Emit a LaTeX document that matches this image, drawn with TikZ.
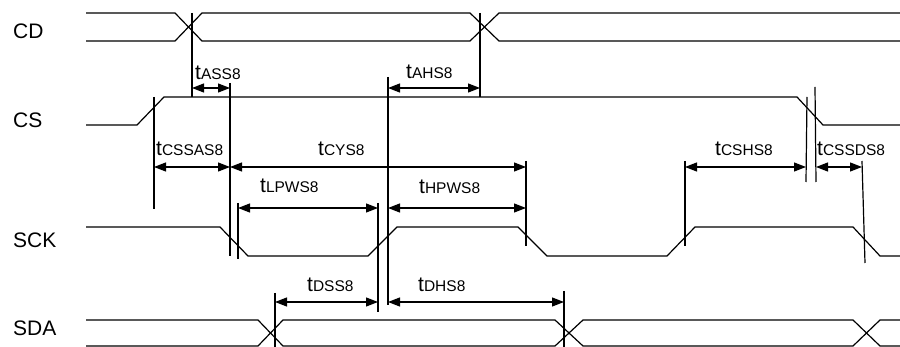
\documentclass[tikz,border=0pt]{standalone}
\usepackage{fontspec}
\setmainfont{Liberation Sans}
\usetikzlibrary{arrows.meta}
\newcommand\tlab[1]{{\fontsize{21}{21}\selectfont t}{\fontsize{15.5}{15.5}\selectfont #1}}
\tikzset{
  sig/.style={line width=1.2pt, line join=miter},
  vline/.style={line width=1.2pt},
  dimarr/.style={line width=1.2pt, {Triangle[length=12pt,width=9pt]}-{Triangle[length=12pt,width=9pt]}},
  siglab/.style={anchor=base west, inner sep=0pt, font=\fontsize{21}{21}\selectfont},
  tl/.style={anchor=base west, inner sep=0pt}
}
\begin{document}
\begin{tikzpicture}[x=1pt,y=-1pt]
\useasboundingbox (0,0) rectangle (900,347);
% signal names
\node[siglab] (lcd) at (13,39) {CD};
\node[siglab] (lcs) at (13,128) {CS};
\node[siglab] (lsck) at (13,248) {SCK};
\node[siglab] (lsda) at (13,336) {SDA};
% CD
\draw[sig] (86,13) -- (175,13) -- (202,41) -- (470,41) -- (499,13) -- (900,13);
\draw[sig] (86,41) -- (175,41) -- (202,13) -- (470,13) -- (499,41) -- (900,41);
% CS
\draw[sig] (86,125) -- (137,125) -- (164,97) -- (797,97) -- (823,125) -- (900,125);
% SCK
\draw[sig] (86,227) -- (220,227) -- (248,256) -- (368,256) -- (397,227) -- (518,227) -- (547,256) -- (667,256) -- (695,227) -- (853,227) -- (880,256) -- (900,256);
% SDA
\draw[sig] (86,320) -- (258,320) -- (283,346) -- (555,346) -- (583,320) -- (853,320) -- (880,346) -- (900,346);
\draw[sig] (86,346) -- (258,346) -- (283,320) -- (555,320) -- (583,346) -- (853,346) -- (880,320) -- (900,320);
% vertical reference lines
\draw[vline] (192,13) -- (192,97);
\draw[vline] (480,13) -- (480,97);
\draw[vline] (154,97) -- (154,209);
\draw[vline] (230,83) -- (230,256);
\draw[vline] (238,203) -- (238,259);
\draw[vline] (388,77) -- (388,305);
\draw[vline] (378,203) -- (378,312);
\draw[vline] (526,161) -- (526,246);
\draw[vline] (685,161) -- (685,246);
\draw[vline] (807,97) -- (806,182);
\draw[vline] (815,87) -- (816,182);
\draw[vline] (862,161) -- (865,263);
\draw[vline] (275,293) -- (275,347);
\draw[vline] (564,291) -- (564,347);
% dimension arrows
\draw[dimarr] (192,88) -- (230,88);
\draw[dimarr] (388,88) -- (480,88);
\draw[dimarr] (154,167) -- (230,167);
\draw[dimarr] (230,167) -- (526,167);
\draw[dimarr] (238,208) -- (378,208);
\draw[dimarr] (388,208) -- (526,208);
\draw[dimarr] (685,167) -- (806,167);
\draw[dimarr] (816,167) -- (862,167);
\draw[dimarr] (275,302) -- (378,302);
\draw[dimarr] (388,302) -- (564,302);
% timing labels
\node[tl] (ass) at (195,80) {\tlab{ASS8}};
\node[tl] (ahs) at (406,79) {\tlab{AHS8}};
\node[tl] (cssas) at (156,156) {\tlab{CSSAS8}};
\node[tl] (cys) at (318,156) {\tlab{CYS8}};
\node[tl] (lpw) at (260,193) {\tlab{LPWS8}};
\node[tl] (hpw) at (419,194) {\tlab{HPWS8}};
\node[tl] (cshs) at (715,156) {\tlab{CSHS8}};
\node[tl] (cssds) at (817,156) {\tlab{CSSDS8}};
\node[tl] (dss) at (307,292) {\tlab{DSS8}};
\node[tl] (dhs) at (418,292) {\tlab{DHS8}};
\end{tikzpicture}
\end{document}
